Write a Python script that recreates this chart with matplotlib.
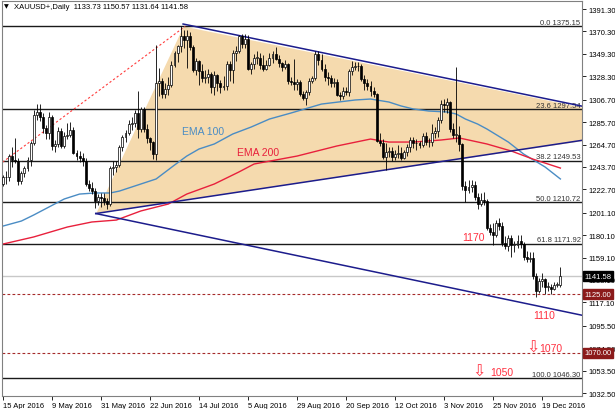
import numpy as np
import matplotlib
matplotlib.use("Agg")
import matplotlib.pyplot as plt
import matplotlib.transforms as mtransforms
from matplotlib.patches import Polygon

plt.rcParams['font.family'] = ['Liberation Sans', 'DejaVu Sans']

# daily candles XAUUSD, 15 Apr 2016 .. 27 Dec 2016 (one entry per trading day)
opens = [1228, 1234, 1234, 1254, 1250, 1249, 1231, 1238, 1243, 1250,
         1266, 1292, 1295, 1290, 1280, 1275, 1290, 1263, 1265, 1277,
         1263, 1273, 1274, 1278, 1257, 1254, 1252, 1249, 1228, 1224,
         1221, 1212, 1216, 1215, 1212, 1209, 1243, 1244, 1246, 1262,
         1272, 1275, 1284, 1285, 1294, 1279, 1298, 1279, 1271, 1267,
         1256, 1322, 1324, 1312, 1317, 1320, 1339, 1350, 1357, 1366,
         1362, 1366, 1356, 1334, 1343, 1333, 1327, 1328, 1331, 1318,
         1330, 1322, 1318, 1319, 1340, 1334, 1350, 1352, 1366, 1359,
         1363, 1335, 1340, 1346, 1346, 1339, 1335, 1339, 1346, 1349,
         1345, 1341, 1337, 1340, 1324, 1323, 1321, 1323, 1312, 1308,
         1314, 1324, 1327, 1349, 1344, 1335, 1328, 1327, 1322, 1323,
         1311, 1310, 1315, 1314, 1333, 1337, 1338, 1338, 1326, 1322,
         1319, 1315, 1312, 1268, 1266, 1253, 1258, 1259, 1253, 1256,
         1257, 1252, 1258, 1262, 1269, 1266, 1266, 1264, 1273, 1267,
         1267, 1275, 1277, 1288, 1303, 1302, 1304, 1279, 1274, 1274,
         1265, 1226, 1222, 1225, 1227, 1216, 1209, 1213, 1212, 1187,
         1183, 1180, 1191, 1189, 1173, 1170, 1177, 1171, 1171, 1175,
         1172, 1160, 1158, 1159, 1142, 1128, 1137, 1139, 1132, 1132,
         1130, 1133, 1133.73]
highs = [1236, 1240, 1256, 1262, 1271, 1252, 1240, 1245, 1253, 1268,
         1297, 1303, 1303, 1294, 1283, 1295, 1292, 1269, 1281, 1280,
         1276, 1285, 1286, 1281, 1260, 1259, 1257, 1252, 1232, 1230,
         1224, 1218, 1219, 1219, 1215, 1245, 1249, 1249, 1264, 1274,
         1278, 1288, 1290, 1297, 1315, 1300, 1300, 1284, 1272, 1268,
         1358, 1336, 1327, 1322, 1328, 1343, 1352, 1358, 1375, 1372,
         1372, 1370, 1358, 1346, 1344, 1340, 1334, 1335, 1332, 1333,
         1331, 1325, 1329, 1343, 1343, 1353, 1357, 1367, 1368, 1368,
         1367, 1342, 1349, 1352, 1350, 1348, 1344, 1350, 1352, 1356,
         1348, 1342, 1344, 1341, 1328, 1345, 1326, 1325, 1315, 1316,
         1327, 1329, 1352, 1352, 1349, 1340, 1332, 1330, 1327, 1326,
         1314, 1318, 1318, 1335, 1343, 1342, 1342, 1340, 1330, 1326,
         1324, 1318, 1313, 1275, 1270, 1266, 1262, 1262, 1260, 1264,
         1262, 1260, 1265, 1272, 1272, 1270, 1268, 1275, 1276, 1271,
         1284, 1281, 1290, 1306, 1307, 1308, 1305, 1285, 1337, 1282,
         1266, 1231, 1232, 1232, 1231, 1219, 1219, 1220, 1214, 1190,
         1191, 1194, 1196, 1192, 1179, 1180, 1180, 1175, 1180, 1180,
         1174, 1165, 1164, 1164, 1145, 1140, 1145, 1140, 1136, 1134,
         1136, 1136, 1150.57]
lows = [1226, 1228, 1231, 1244, 1247, 1227, 1228, 1234, 1240, 1245,
        1264, 1288, 1287, 1275, 1270, 1270, 1260, 1258, 1262, 1261,
        1261, 1270, 1272, 1256, 1250, 1248, 1245, 1226, 1221, 1218,
        1205, 1208, 1206, 1208, 1204, 1207, 1236, 1239, 1244, 1259,
        1267, 1274, 1278, 1281, 1271, 1276, 1276, 1266, 1260, 1251,
        1250, 1310, 1308, 1308, 1311, 1318, 1337, 1342, 1351, 1355,
        1336, 1353, 1332, 1330, 1320, 1323, 1322, 1322, 1313, 1311,
        1315, 1313, 1316, 1316, 1324, 1322, 1343, 1350, 1355, 1355,
        1334, 1331, 1335, 1340, 1335, 1333, 1334, 1338, 1341, 1344,
        1337, 1333, 1335, 1321, 1320, 1316, 1316, 1310, 1306, 1302,
        1311, 1322, 1325, 1339, 1333, 1324, 1320, 1318, 1318, 1310,
        1306, 1307, 1311, 1310, 1330, 1334, 1333, 1324, 1316, 1316,
        1310, 1309, 1267, 1263, 1251, 1241, 1253, 1249, 1250, 1252,
        1250, 1251, 1254, 1258, 1261, 1260, 1261, 1262, 1264, 1262,
        1263, 1271, 1272, 1285, 1295, 1294, 1276, 1271, 1267, 1259,
        1222, 1211, 1219, 1220, 1213, 1204, 1207, 1208, 1185, 1180,
        1171, 1178, 1185, 1170, 1167, 1165, 1160, 1164, 1168, 1168,
        1157, 1155, 1155, 1139, 1122, 1126, 1132, 1125, 1128, 1125,
        1129, 1132, 1131.64]
closes = [1234, 1234, 1254, 1250, 1249, 1231, 1238, 1243, 1250, 1266,
          1292, 1295, 1290, 1280, 1275, 1290, 1263, 1265, 1277, 1263,
          1273, 1274, 1278, 1257, 1254, 1252, 1249, 1228, 1224, 1221,
          1212, 1216, 1215, 1212, 1209, 1243, 1244, 1246, 1262, 1272,
          1275, 1284, 1285, 1294, 1279, 1298, 1279, 1271, 1267, 1256,
          1322, 1324, 1312, 1317, 1320, 1339, 1350, 1357, 1366, 1362,
          1366, 1356, 1334, 1343, 1333, 1327, 1328, 1331, 1318, 1330,
          1322, 1318, 1319, 1340, 1334, 1350, 1352, 1366, 1359, 1363,
          1335, 1340, 1346, 1346, 1339, 1335, 1339, 1346, 1349, 1345,
          1341, 1337, 1340, 1324, 1323, 1321, 1323, 1312, 1308, 1314,
          1324, 1327, 1349, 1344, 1335, 1328, 1327, 1322, 1323, 1311,
          1310, 1315, 1314, 1333, 1337, 1338, 1338, 1326, 1322, 1319,
          1315, 1312, 1268, 1266, 1253, 1258, 1259, 1253, 1256, 1257,
          1252, 1258, 1262, 1269, 1266, 1266, 1264, 1273, 1267, 1267,
          1275, 1277, 1288, 1303, 1302, 1304, 1279, 1274, 1274, 1265,
          1226, 1222, 1225, 1227, 1216, 1209, 1213, 1212, 1187, 1183,
          1180, 1191, 1189, 1173, 1170, 1177, 1171, 1171, 1175, 1172,
          1160, 1158, 1159, 1142, 1128, 1137, 1139, 1132, 1132, 1130,
          1133, 1134, 1141.58]

# moving averages (bar index, price)
ema100_idx = [0, 6, 10, 15, 20, 25, 30, 35, 38, 43, 50, 56, 60, 64, 69, 75, 81, 87,
              94, 104, 115, 120, 126, 130, 134, 139, 145, 148, 151, 155, 158, 165, 170, 177, 182]
ema100_val = [1188.5, 1193.2, 1198.8, 1206.3, 1213.8, 1218.4, 1219.4, 1219.4, 1221.2,
              1225.9, 1232.5, 1245.5, 1253.9, 1260.5, 1265.2, 1274.5, 1281.0, 1288.5,
              1294.1, 1302.5, 1306.3, 1307.2, 1304.4, 1300.7, 1297.9, 1296.0, 1295.1,
              1293.2, 1288.5, 1283.8, 1279.2, 1267.0, 1255.8, 1243.7, 1232.5]
ema200_idx = [0, 10, 21, 29, 37, 45, 54, 60, 69, 77, 82, 96, 109, 120, 126, 134, 143,
              149, 158, 166, 173, 182]
ema200_val = [1171.7, 1178.3, 1187.6, 1192.3, 1194.1, 1202.6, 1209.1, 1218.4, 1227.8,
              1239.0, 1246.5, 1253.9, 1263.3, 1269.8, 1267.0, 1267.0, 1268.9, 1270.8,
              1265.2, 1258.6, 1251.1, 1242.7]

# fibonacci retracement
fib_pct = ["0.0", "23.6", "38.2", "50.0", "61.8", "100.0"]
fib_lvl = [1375.15, 1297.54, 1249.53, 1210.72, 1171.92, 1046.30]
fib_anchor_x = [-95, 59.5]
fib_anchor_y = [1046.30, 1375.15]

# trend lines (start, end)
upper_x, upper_y = [58.8, 190], [1377.3, 1300.0]
rise_x, rise_y = [30.3, 190], [1200.2, 1269.0]
fall_x, fall_y = [30.3, 190], [1200.2, 1104.6]
triangle_x = [30.5, 59.0, 220.4]
triangle_y = [1200.5, 1375.0, 1281.0]

bid = 1141.58
levels = [1125.00, 1070.00]

yticks = [1032.5, 1053.5, 1074.5, 1095.5, 1117.1, 1138.1, 1159.1, 1180.1, 1201.1,
          1222.7, 1243.7, 1264.7, 1285.7, 1306.7, 1328.3, 1349.3, 1370.3, 1391.3]
xtick_idx = [0, 16, 32, 48, 64, 80, 96, 112, 128, 144, 160, 176]
xtick_lab = ["15 Apr 2016", "9 May 2016", "31 May 2016", "22 Jun 2016", "14 Jul 2016",
             "5 Aug 2016", "29 Aug 2016", "20 Sep 2016", "12 Oct 2016", "3 Nov 2016",
             "25 Nov 2016", "19 Dec 2016"]

fig = plt.figure(figsize=(6.15, 4.10), dpi=100)
ax = fig.add_axes([2/615, 13/410, 580/615, 395/410])
ax.set_xlim(-0.33, 189.06)
ax.set_ylim(1029.7, 1398.8)

ax.add_patch(Polygon(list(zip(triangle_x, triangle_y)), closed=True,
                     fc='#F5DAAE', ec='none', zorder=0.5))

for p, v in zip(fib_pct, fib_lvl):
    ax.axhline(v, color='#1a1a1a', lw=1.0, zorder=1)
    ax.text(188.6, v + 0.6, f"{p} {v:.2f}", ha='right', va='bottom',
            fontsize=5.5, color='#333333', zorder=1.2)
ax.plot(fib_anchor_x, fib_anchor_y, color='#FF3B3B', lw=0.8, ls=(0, (2, 2)), zorder=1)

ax.axhline(bid, color='#C8C8C8', lw=1.0, zorder=1)
for v in levels:
    ax.axhline(v, color='#A52A2A', lw=0.8, ls=(0, (2.5, 2)), zorder=1)

ax.plot(ema100_idx, ema100_val, color='#4A8CC4', lw=1.0, zorder=2)
ax.plot(ema200_idx, ema200_val, color='#E8203C', lw=1.0, zorder=2)

for xs, ys in [(upper_x, upper_y), (rise_x, rise_y), (fall_x, fall_y)]:
    ax.plot(xs, ys, color='#1C1C8C', lw=1.1, zorder=2.2)

idx = np.arange(len(closes))
o = np.array(opens, float)
c = np.array(closes, float)
ax.vlines(idx, lows, highs, color='black', lw=0.6, zorder=3)
body_lo = np.minimum(o, c)
body_h = np.maximum(np.abs(c - o), 0.4)
face = ['white' if cc >= oo else 'black' for oo, cc in zip(o, c)]
ax.bar(idx, body_h, bottom=body_lo, width=0.62, color=face, edgecolor='black',
       linewidth=0.5, zorder=3.1)

ax.text(58.4, 1277.3, "EMA 100", color='#4A8CC4', fontsize=7.5, va='center', zorder=4)
ax.text(76.4, 1257.4, "EMA 200", color='#E8203C', fontsize=7.5, va='center', zorder=4)
ax.text(150.1, 1178.5, "1170", color='#FF3040', fontsize=7.5, va='center', zorder=4)
ax.text(173.1, 1105.6, "1110", color='#FF3040', fontsize=7.5, va='center', zorder=4)
ax.text(173.2, 1075.3, "\u21e9", color='#FF3040', fontsize=11.5, ha='center', va='center',
        family=['DejaVu Sans'], zorder=4)
ax.text(175.2, 1074.8, "1070", color='#FF3040', fontsize=7.5, va='center', zorder=4)
ax.text(155.3, 1053.0, "\u21e9", color='#FF3040', fontsize=11.5, ha='center', va='center',
        family=['DejaVu Sans'], zorder=4)
ax.text(159.2, 1052.4, "1050", color='#FF3040', fontsize=7.5, va='center', zorder=4)

ax.text(0.004, 0.993, "\u25bc", transform=ax.transAxes, fontsize=4.5, va='top',
        family=['DejaVu Sans'])
ax.text(0.021, 0.995, "XAUUSD+,Daily  1133.73 1150.57 1131.64 1141.58",
        transform=ax.transAxes, fontsize=5.5, va='top')

ax.yaxis.tick_right()
ax.set_yticks(yticks)
ax.set_yticklabels([f"{v:.2f}" for v in yticks])
ax.set_xticks(xtick_idx)
ax.set_xticklabels(xtick_lab, ha='left')
ax.tick_params(axis='y', length=3, width=0.6, pad=2, labelsize=5.5)
ax.tick_params(axis='x', length=3, width=0.6, pad=1, labelsize=5.5)
for s in ax.spines.values():
    s.set_color('#808080')
    s.set_linewidth(0.8)

tr = mtransforms.blended_transform_factory(ax.transAxes, ax.transData)
boxes = [(bid, "1141.58", 'black'), (1125.00, "1125.00", '#8B1A1A'), (1070.00, "1070.00", '#8B1A1A')]
for v, t, col in boxes:
    ax.text(1.004, v, t, transform=tr, fontsize=5.5, color='white', va='center', ha='left',
            bbox=dict(boxstyle='square,pad=0.2', fc=col, ec=col), zorder=6, clip_on=False)

fig.savefig("out.png", dpi=100)
